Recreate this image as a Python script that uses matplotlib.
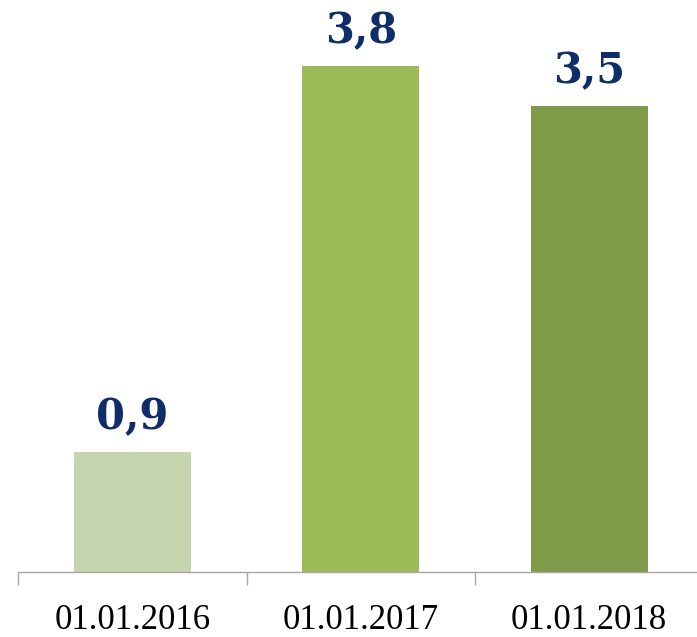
import matplotlib
matplotlib.use("Agg")
import matplotlib.pyplot as plt

categories = ["01.01.2016", "01.01.2017", "01.01.2018"]
values = [0.9, 3.8, 3.5]
value_labels = ["0,9", "3,8", "3,5"]
bar_colors = ["#c6d5ad", "#9bbb59", "#7f9a48"]

fig = plt.figure(figsize=(6.97, 6.37), dpi=100)
ax = fig.add_axes([18 / 697, 65 / 637, 685.5 / 697, 572 / 637])

x = list(range(len(categories)))
bars = ax.bar(x, values, width=0.51, color=bar_colors, zorder=2)

ax.set_xlim(-0.5, len(categories) - 0.5)
ax.set_ylim(0, 4.294)

for rect, lab in zip(bars, value_labels):
    ax.annotate(lab, (rect.get_x() + rect.get_width() / 2, rect.get_height()),
                xytext=(0, 16.5), textcoords="offset points",
                ha="center", va="baseline", fontsize=30, fontweight="bold",
                family="DejaVu Serif", color="#0f2d69")

for s in ["top", "right", "left"]:
    ax.spines[s].set_visible(False)
ax.spines["bottom"].set_color("#a6a6a6")
ax.spines["bottom"].set_linewidth(1.0)
ax.set_yticks([])

ax.set_xticks(x)
ax.set_xticklabels(categories, family="Liberation Serif", fontsize=25, color="#000000")
ax.tick_params(axis="x", which="major", length=0, pad=23)
ax.set_xticks([i - 0.5 for i in range(len(categories) + 1)], minor=True)
ax.tick_params(axis="x", which="minor", length=9.5, width=1.0, color="#a6a6a6")

fig.savefig("out.png", dpi=100)
